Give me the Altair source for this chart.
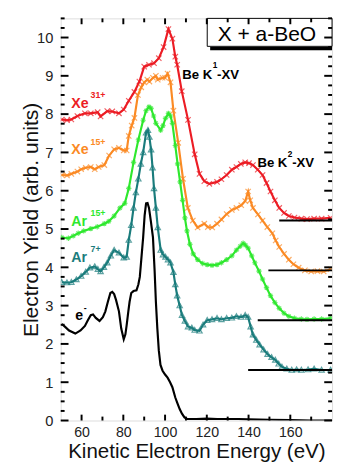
import altair as alt
import pandas as pd

# ---------------- data ----------------
red_x = [50.5, 53, 55.1, 58, 61.6, 64.4, 67.7, 69.1, 72.3, 74.7, 77.9, 80.2, 82.6, 85.3, 87.7, 90.0, 92.3, 94.7, 97.0, 99.3,
         101.6, 103.5, 104.9, 105.8, 108.0, 111.0, 114.2, 116.5, 118.8, 121.2, 124.9, 127, 129.5, 132, 134.2, 136.3, 138.4,
         140.2, 142.1, 144.4, 146.7, 148.6, 150.5, 152.6, 154.7, 157, 159.3, 162, 165.3, 168, 171.4, 175, 179.3]
red_y = [7.86, 7.84, 7.86, 7.95, 8.02, 8.02, 8.05, 7.94, 8.08, 8.07, 8.02, 8.12, 8.35, 8.58, 8.85, 9.24, 9.29, 9.33, 9.46, 9.75,
         10.22, 9.97, 9.5, 9.29, 8.6, 7.85, 6.95, 6.44, 6.25, 6.18, 6.23, 6.3, 6.41, 6.55, 6.62, 6.7, 6.74,
         6.72, 6.67, 6.55, 6.41, 6.2, 5.98, 5.75, 5.55, 5.42, 5.34, 5.3, 5.27, 5.26, 5.27, 5.27, 5.29]

orange_x = [50.5, 53, 55.1, 58, 59.8, 62, 64.4, 66.3, 68.2, 70.9, 73.2, 75.6, 77.9, 80.2, 81.6, 82.6, 84, 85.3, 87, 88.6,
            90.0, 91.5, 92.5, 94.2, 95.6, 96.5, 98.8, 100, 101.2, 102.6, 104.0, 106.3, 108.6, 110.9, 113.3, 115.6, 118.8,
            120.5, 122.6, 124.9, 127, 129.5, 132, 134.2, 136.5, 138.4, 139.8, 140.8, 142.1, 144.5, 146.7, 149, 151.4, 153,
            154.7, 157, 159.3, 161.5, 164, 167, 170, 173, 176, 179.3]
orange_y = [6.41, 6.4, 6.44, 6.5, 6.56, 6.6, 6.62, 6.56, 6.62, 6.67, 6.92, 7.08, 7.12, 7.05, 7.05, 7.43, 7.7, 7.9, 8.5, 8.7,
            8.83, 8.9, 8.85, 8.95, 9.0, 8.9, 8.95, 8.95, 9.06, 8.83, 8.09, 7.25, 6.31, 5.55, 5.22, 5.04, 5.14,
            5.05, 5.04, 5.14, 5.25, 5.39, 5.5, 5.55, 5.62, 5.73, 5.98, 5.75, 5.55, 5.38, 5.22, 5.05, 4.89, 4.7,
            4.53, 4.35, 4.2, 4.08, 3.99, 3.92, 3.89, 3.9, 3.89, 3.95]

green_x = [50.5, 53.7, 56, 58.4, 61, 64.4, 67.5, 70.9, 73, 75.6, 78.4, 80.7, 82.6, 84.9, 87.2, 89.5, 90.9, 92.3, 93.3, 94.5,
           95.6, 97.9, 99.0, 100.2, 101.6, 102.6, 103.5, 104.9, 106, 107.2, 108.4, 109.5, 110.5, 111.9, 113.5, 115.6, 118,
           120.2, 122.5, 124.9, 127, 129.5, 132, 134.2, 136, 137.4, 138.5, 139.8, 141.5, 143, 145, 146.7, 148.6, 150.5,
           152.6, 154.7, 157, 159.3, 162, 165.3, 168, 171.4, 175, 179.3]
green_y = [4.78, 4.76, 4.82, 4.89, 4.95, 5.01, 5.06, 5.14, 5.2, 5.34, 5.55, 5.67, 6.06, 6.74, 7.33, 7.84, 8.09, 8.19, 8.15, 7.95,
           7.76, 7.58, 7.7, 7.89, 8.02, 7.95, 7.76, 7.18, 6.7, 6.23, 5.75, 5.29, 4.95, 4.6, 4.35, 4.2, 4.1,
           4.07, 4.05, 4.07, 4.12, 4.2, 4.3, 4.45, 4.55, 4.63, 4.58, 4.5, 4.3, 4.12, 3.9, 3.69, 3.47, 3.26,
           3.08, 2.93, 2.8, 2.72, 2.67, 2.65, 2.64, 2.65, 2.65, 2.67]

teal_x = [50.5, 53, 55.1, 57.5, 59.8, 62, 64, 66.3, 67.8, 69.1, 70.7, 72.3, 74, 75.6, 77.9, 80.2, 81.6, 82.6, 83.8, 84.9,
          86, 87.2, 88.4, 89.5, 90.9, 91.8, 92.5, 93.3, 94.0, 94.7, 95.6, 96.5, 97.9, 99, 100.2, 101.4, 102.6, 104,
          104.9, 105.8, 107, 108.1, 109.5, 111, 112.8, 114.2, 116.5, 118.2, 120.2, 122.5, 124.9, 127, 129.5, 132, 134.2,
          136.4, 138.4, 139.8, 141, 142.1, 143.7, 145.3, 147.2, 149.1, 151, 152.8, 154.4, 156, 158.3, 160.7, 163, 165.3,
          168.5, 171.4, 175, 179.3]
teal_y = [3.61, 3.6, 3.61, 3.68, 3.77, 3.88, 3.99, 4.02, 3.95, 3.89, 4.0, 4.12, 4.3, 4.45, 4.38, 4.25, 4.27, 4.71, 5.1, 5.55,
          5.95, 6.31, 6.7, 7.0, 7.51, 7.58, 7.4, 7.07, 6.6, 6.06, 5.55, 5.04, 4.45, 4.33, 4.27, 4.2, 4.12, 3.87,
          3.55, 3.26, 3.0, 2.75, 2.6, 2.45, 2.42, 2.36, 2.34, 2.5, 2.62, 2.64, 2.67, 2.64, 2.67, 2.68, 2.72,
          2.7, 2.75, 2.7, 2.45, 2.24, 2.1, 1.98, 1.85, 1.73, 1.65, 1.58, 1.48, 1.4, 1.35, 1.32, 1.33, 1.32,
          1.33, 1.35, 1.32, 1.32]

black_x = [50.5, 52, 54, 57, 59.5, 61.6, 63, 64.4, 65.5, 66.8, 68.6, 70.2, 71.4, 72.6, 73.8, 74.7, 75.6, 76.5, 77.9, 79,
           80.2, 81, 81.6, 82.4, 83, 83.8, 84.9, 86.3, 87.2, 87.9, 88.6, 89.5, 90.2, 90.9, 91.6, 92.3, 93.2, 94.2, 95.0,
           95.6, 96.3, 97.0, 97.8, 98.8, 100.0, 101.2, 102.4, 103.5, 104.9, 105.8, 107, 108.1, 109.3, 110.5, 115, 120,
           125, 130, 135, 140, 150, 160, 170, 180]
black_y = [2.52, 2.45, 2.35, 2.27, 2.35, 2.47, 2.62, 2.75, 2.77, 2.68, 2.6, 2.7, 2.85, 3.1, 3.33, 3.36, 3.3, 3.15, 2.85, 2.4,
           2.12, 2.25, 2.49, 2.85, 3.1, 3.33, 3.38, 3.4, 3.55, 3.75, 4.2, 4.78, 5.35, 5.67, 5.68, 5.55, 5.2, 4.78, 3.9,
           3.1, 2.4, 1.83, 1.45, 1.3, 1.2, 1.12, 1.0, 0.87, 0.6, 0.47, 0.3, 0.18, 0.08, 0.04, 0.04, 0.05,
           0.04, 0.04, 0.04, 0.03, 0.02, 0.01, 0.0, 0.0]

series_names = ["Xe31", "Xe15", "Ar15", "Ar7", "e"]
series_colors = ["#ec1c24", "#fb8a24", "#2ee82e", "#1a7c7c", "#000000"]

# horizontal reference (background) levels
base_series = ["Xe31", "Xe15", "Ar15", "Ar7"]
base_start = [154.7, 149.5, 144.4, 139.8]
base_level = [5.22, 3.92, 2.62, 1.32]

x_ticks = [60, 80, 100, 120, 140, 160]
y_ticks = list(range(0, 11))

# ---------------- frames ----------------
W, H = 278, 412
XD = [50, 180]
YD = [0, 10.5]

rows = []
for name, xs_, ys_ in zip(series_names, [red_x, orange_x, green_x, teal_x, black_x],
                          [red_y, orange_y, green_y, teal_y, black_y]):
    for a, b in zip(xs_, ys_):
        rows.append({"series": name, "x": a, "y": b})
df = pd.DataFrame(rows)

xs = alt.Scale(domain=XD, nice=False, zero=False)
ys = alt.Scale(domain=YD, nice=False, zero=False)
col = alt.Scale(domain=series_names, range=series_colors)

FONT = "Liberation Sans"

xaxis = alt.Axis(values=x_ticks, title="Kinetic Electron Energy (eV)", grid=False, ticks=False, domain=False,
                 labelFontSize=14.5, labelColor="#222222", labelPadding=5, labelFont=FONT,
                 titleFontSize=21, titleFontWeight="normal", titleFont=FONT, titleColor="#111111",
                 titleY=38, titleX=W / 2, titleBaseline="alphabetic", titleAlign="center")
yaxis = alt.Axis(values=y_ticks, title="Electron Yield (arb. units)", grid=False, ticks=False, domain=False,
                 labelFontSize=15, labelColor="#222222", labelPadding=8, labelFont=FONT,
                 titleFontSize=21.5, titleFontWeight="normal", titleFont=FONT, titleColor="#111111",
                 titleX=-24, titleY=H / 2, titleAngle=270, titleBaseline="alphabetic", titleAlign="center")

lines = alt.Chart(df).mark_line(strokeWidth=2.2, clip=True).encode(
    x=alt.X("x:Q", scale=xs, axis=xaxis),
    y=alt.Y("y:Q", scale=ys, axis=yaxis),
    color=alt.Color("series:N", scale=col, legend=None),
    detail="series:N",
)

xmark = "M-1,-1L1,1M1,-1L-1,1"
star = "M-1,0L1,0M0,-1L0,1M-0.7,-0.7L0.7,0.7M0.7,-0.7L-0.7,0.7"
tri = "M0,-1L1,0.8L-1,0.8Z"
pts = alt.Chart(df[df.series != "e"]).mark_point(size=30, strokeWidth=1.2, filled=False, clip=True).encode(
    x=alt.X("x:Q", scale=xs),
    y=alt.Y("y:Q", scale=ys),
    color=alt.Color("series:N", scale=col, legend=None),
    shape=alt.Shape("series:N", scale=alt.Scale(domain=["Xe31", "Xe15", "Ar15", "Ar7"],
                                                range=[xmark, xmark, star, tri]), legend=None),
)

bdf = pd.DataFrame({"series": base_series, "x": base_start, "x2": [180] * 4, "y": base_level})
bases = alt.Chart(bdf).mark_rule(color="black", strokeWidth=2).encode(
    x=alt.X("x:Q", scale=xs), x2="x2:Q", y=alt.Y("y:Q", scale=ys))

# legend-like box in the corner
box_df = pd.DataFrame({"x": [120.2], "x2": [180], "y": [10.5], "y2": [9.77]})
box = alt.Chart(box_df).mark_rect(fill="white", stroke="black", strokeWidth=1).encode(
    x=alt.X("x:Q", scale=xs), x2="x2:Q", y=alt.Y("y:Q", scale=ys), y2="y2:Q")
shadow_df = pd.DataFrame({"x": [121.6], "x2": [180], "y": [9.71]})
shadow = alt.Chart(shadow_df).mark_rule(color="black", strokeWidth=3.5).encode(
    x=alt.X("x:Q", scale=xs), x2="x2:Q", y=alt.Y("y:Q", scale=ys))

# series labels (main part, then superscript)
lab = pd.DataFrame([
    {"x": 55.1, "y": 8.17, "t": "Xe", "c": "#ec1c24"},
    {"x": 55.1, "y": 6.95, "t": "Xe", "c": "#fb8a24"},
    {"x": 55.1, "y": 5.09, "t": "Ar", "c": "#2ee82e"},
    {"x": 55.1, "y": 4.15, "t": "Ar", "c": "#1a7c7c"},
    {"x": 57.0, "y": 2.62, "t": "e", "c": "#000000"},
])
sup = pd.DataFrame([
    {"x": 64.3, "y": 8.42, "t": "31+", "c": "#ec1c24"},
    {"x": 64.3, "y": 7.20, "t": "15+", "c": "#fb8a24"},
    {"x": 64.3, "y": 5.34, "t": "15+", "c": "#2ee82e"},
    {"x": 64.3, "y": 4.40, "t": "7+", "c": "#1a7c7c"},
    {"x": 61.0, "y": 2.86, "t": "-", "c": "#000000"},
])
labels = alt.Chart(lab).mark_text(align="left", baseline="alphabetic", font=FONT, fontWeight="bold",
                                  fontSize=14.5).encode(
    x=alt.X("x:Q", scale=xs), y=alt.Y("y:Q", scale=ys), text="t:N", color=alt.Color("c:N", scale=None))
sups = alt.Chart(sup).mark_text(align="left", baseline="alphabetic", font=FONT, fontWeight="bold",
                                fontSize=9).encode(
    x=alt.X("x:Q", scale=xs), y=alt.Y("y:Q", scale=ys), text="t:N", color=alt.Color("c:N", scale=None))

# Be K-XV annotations: "Be K" ends where the superscript starts
ann_main = pd.DataFrame([
    {"x": 122.6, "y": 8.93, "t": "Be K"},
    {"x": 158.6, "y": 6.62, "t": "Be K"},
])
ann_sup = pd.DataFrame([
    {"x": 122.8, "y": 9.2, "t": "1"},
    {"x": 158.8, "y": 6.89, "t": "2"},
])
ann_tail = pd.DataFrame([
    {"x": 124.9, "y": 8.93, "t": "-XV"},
    {"x": 160.9, "y": 6.62, "t": "-XV"},
])
a1 = alt.Chart(ann_main).mark_text(align="right", baseline="alphabetic", font=FONT, fontWeight="bold",
                                   fontSize=13.5, color="black").encode(
    x=alt.X("x:Q", scale=xs), y=alt.Y("y:Q", scale=ys), text="t:N")
a2 = alt.Chart(ann_sup).mark_text(align="left", baseline="alphabetic", font=FONT, fontWeight="bold",
                                  fontSize=8.5, color="black").encode(
    x=alt.X("x:Q", scale=xs), y=alt.Y("y:Q", scale=ys), text="t:N")
a3 = alt.Chart(ann_tail).mark_text(align="left", baseline="alphabetic", font=FONT, fontWeight="bold",
                                   fontSize=13.5, color="black").encode(
    x=alt.X("x:Q", scale=xs), y=alt.Y("y:Q", scale=ys), text="t:N")

title_df = pd.DataFrame({"x": [148.8], "y": [9.92], "t": ["X + a-BeO"]})
title_txt = alt.Chart(title_df).mark_text(align="center", baseline="alphabetic", font=FONT, fontSize=21.5,
                                          color="black").encode(
    x=alt.X("x:Q", scale=xs), y=alt.Y("y:Q", scale=ys), text="t:N")

# inward ticks on all four sides
ymaj = pd.DataFrame({"v": [float(v) for v in range(0, 11)]})
ymin = pd.DataFrame({"v": [v * 0.25 for v in range(0, 43) if v % 4 != 0]})
xmaj = pd.DataFrame({"v": [60, 80, 100, 120, 140, 160]})
xmin = pd.DataFrame({"v": [70, 90, 110, 130, 150, 170]})


def yt(d, x0, x1):
    return alt.Chart(d).mark_rule(color="black", strokeWidth=2).encode(
        y=alt.Y("v:Q", scale=ys), x=alt.value(x0), x2=alt.value(x1))


def xt(d, y0, y1):
    return alt.Chart(d).mark_rule(color="black", strokeWidth=2).encode(
        x=alt.X("v:Q", scale=xs), y=alt.value(y0), y2=alt.value(y1))


ticks = [yt(ymaj, 0, 8), yt(ymin, 0, 4), yt(ymaj, W, W - 8), yt(ymin, W, W - 4),
         xt(xmaj, H, H - 6), xt(xmin, H, H - 4), xt(xmaj, 0, 6), xt(xmin, 0, 4)]

chart = alt.layer(lines, pts, bases, box, shadow, labels, sups, a1, a2, a3, title_txt, *ticks).properties(
    width=W, height=H,
    autosize=alt.AutoSizeParams(type="none"),
    padding={"left": 54, "top": 5, "right": 2, "bottom": 42},
).configure_view(stroke="black", strokeWidth=3).configure(background="white")

chart.save("out.html", embed_options={"renderer": "svg", "actions": False})
